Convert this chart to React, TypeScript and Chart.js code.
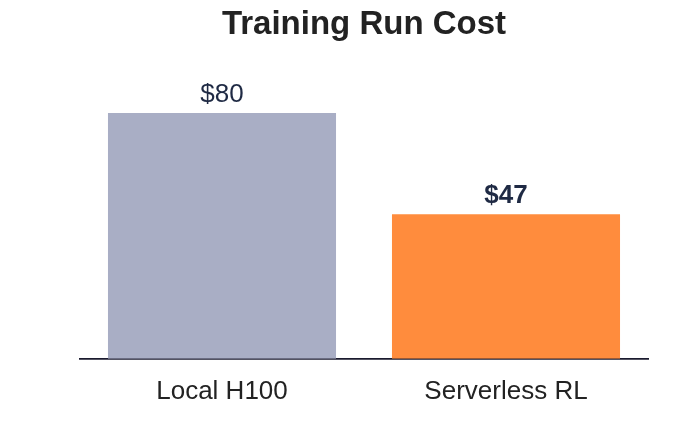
import React, { useEffect, useRef } from "react";
import { Chart, registerables } from "chart.js";

Chart.register(...registerables);

const categories = ["Local H100", "Serverless RL"];
const costs = [80, 47];
const valueLabels = ["$80", "$47"];
const barColors = ["#a9aec5", "#ff8c3d"];
const labelBold = [false, true];

const FONT = '"Liberation Sans", Arial, sans-serif';

const valueLabelPlugin = {
  id: "valueLabels",
  afterDatasetsDraw(chart: any) {
    const { ctx } = chart;
    const meta = chart.getDatasetMeta(0);
    ctx.save();
    ctx.textAlign = "center";
    ctx.textBaseline = "alphabetic";
    ctx.fillStyle = "#1f2a44";
    meta.data.forEach((bar: any, i: number) => {
      ctx.font = `${labelBold[i] ? "bold " : ""}26px ${FONT}`;
      ctx.fillText(valueLabels[i], bar.x, bar.y - 11);
    });
    ctx.restore();
  },
};

export default function App() {
  const ref = useRef<HTMLCanvasElement>(null);
  useEffect(() => {
    if (!ref.current) return;
    const chart = new Chart(ref.current, {
      type: "bar",
      data: {
        labels: categories,
        datasets: [
          {
            data: costs,
            backgroundColor: barColors,
            borderWidth: 0,
            categoryPercentage: 1,
            barPercentage: 0.803,
          },
        ],
      },
      options: {
        animation: false,
        responsive: false,
        maintainAspectRatio: false,
        layout: { padding: { left: 80, right: 32, top: 0, bottom: 0 } },
        plugins: {
          legend: { display: false },
          tooltip: { enabled: false },
          title: {
            display: true,
            text: "Training Run Cost",
            color: "#222222",
            font: { family: FONT, size: 33, weight: "bold" },
            padding: { top: 5.5, bottom: 6.4 },
          },
        },
        scales: {
          x: {
            grid: { display: false, drawTicks: false },
            border: { display: true, color: "#1a1a2e", width: 1.8 },
            ticks: {
              color: "#222222",
              padding: 17.5,
              font: { family: FONT, size: 26 },
            },
          },
          y: {
            display: false,
            min: 0,
            max: 100,
          },
        },
      },
      plugins: [valueLabelPlugin],
    });
    return () => chart.destroy();
  }, []);
  return (
    <div style={{ position: "absolute", left: 0, top: 0, width: 680, height: 425, background: "#fff" }}>
      <canvas ref={ref} width={680} height={425} style={{ width: 680, height: 425 }} />
    </div>
  );
}
